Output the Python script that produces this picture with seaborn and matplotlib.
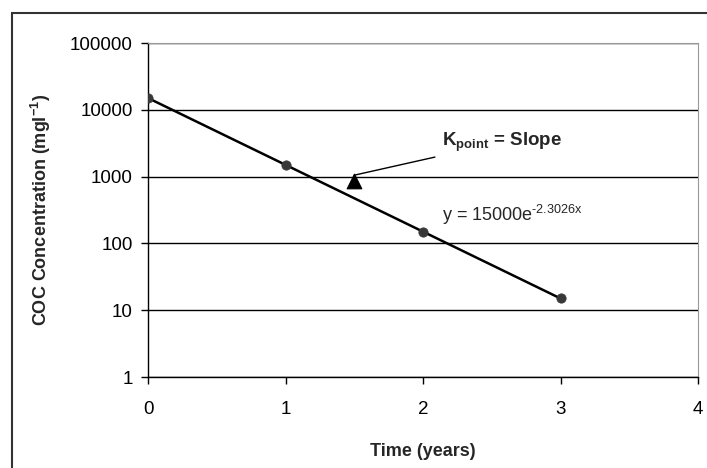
import numpy as np
import pandas as pd
import seaborn as sns
import matplotlib.pyplot as plt
from matplotlib.patches import Rectangle

# measured concentrations
time_years = [0, 1, 2, 3]
concentration = [15000, 1500, 150, 15]

# fitted exponential: y = a * exp(b * x)
fit_a = 15000
fit_b = -2.3026

# k point marker
k_time = [1.5]
k_conc = [850]

sns.set_theme(style="white")
plt.rcParams["font.family"] = ["Liberation Sans", "DejaVu Sans"]
plt.rcParams["mathtext.fontset"] = "custom"
plt.rcParams["mathtext.rm"] = "Liberation Sans"
plt.rcParams["mathtext.bf"] = "Liberation Sans:bold"

fig = plt.figure(figsize=(7.07, 4.68), dpi=100)
ax = fig.add_axes([148 / 707, 1 - 377 / 468, 550 / 707, 334 / 468])

# trend line
xs = np.linspace(0, 3, 100)
fit_df = pd.DataFrame({"x": xs, "y": fit_a * np.exp(fit_b * xs)})
sns.lineplot(data=fit_df, x="x", y="y", ax=ax, color="black", lw=1.8)

data_df = pd.DataFrame({"t": time_years, "c": concentration})
sns.scatterplot(data=data_df, x="t", y="c", ax=ax, color="#383838", s=45,
                edgecolor="#383838", zorder=3)
sns.scatterplot(x=k_time, y=k_conc, ax=ax, marker="^", color="black", s=110,
                edgecolor="black", zorder=3)

ax.set_yscale("log")
ax.set_ylim(1, 100000)
ax.set_xlim(0, 4)
ax.set_xticks([0, 1, 2, 3, 4])
ax.set_yticks([1, 10, 100, 1000, 10000, 100000])
ax.set_yticklabels(["1", "10", "100", "1000", "10000", "100000"])
ax.minorticks_off()
ax.yaxis.grid(True, color="black", lw=1)
ax.set_axisbelow(True)

for side in ["top", "right"]:
    ax.spines[side].set_color("#999999")
    ax.spines[side].set_linewidth(0.8)
for side in ["left", "bottom"]:
    ax.spines[side].set_color("black")
    ax.spines[side].set_linewidth(1)

ax.tick_params(axis="both", direction="out", length=5, width=1, color="black",
               labelsize=13.5, labelcolor="black", left=True, bottom=True)
ax.tick_params(axis="x", pad=12)
ax.tick_params(axis="y", pad=6)

ax.set_xlabel("Time (years)", fontsize=13, fontweight="bold", labelpad=18)
ax.set_ylabel("COC Concentration (mgl$^{\\mathbf{-1}}$)", fontsize=13,
              fontweight="bold", labelpad=12)

ax.annotate("K$_{\\mathbf{point}}$ = Slope", xy=(1.5, 1050), xytext=(2.14, 3300),
            fontsize=13.5, fontweight="bold", va="center", ha="left",
            arrowprops=dict(arrowstyle="-", color="black", lw=1,
                            shrinkA=3, shrinkB=0))
ax.text(2.14, 270, "y = 15000e$^{\\mathrm{\\text{-}2.3026x}}$", fontsize=13,
        va="center", ha="left")

# outer chart border
fig.add_artist(Rectangle((12 / 707, -0.1), 1.2, 1 - 13 / 468 + 0.1,
                         transform=fig.transFigure, fill=False,
                         edgecolor="#333333", lw=1.5))

fig.savefig("out.png", dpi=100)
